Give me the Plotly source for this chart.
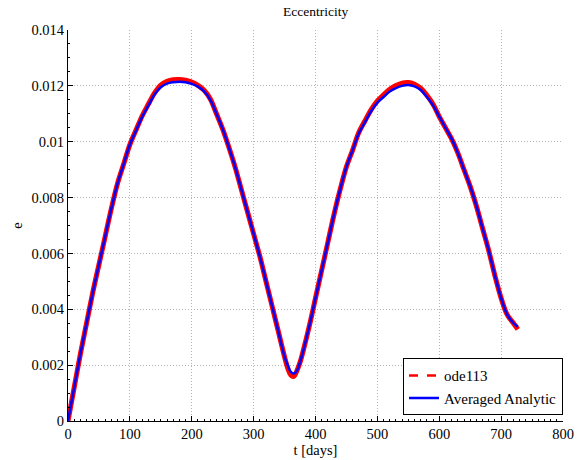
import plotly.graph_objects as go

# time samples [days]
t_days = [0, 10, 20, 30, 40, 50, 60, 70, 80, 90, 100, 110, 120, 130, 140, 150, 160, 170, 180, 190,
          200, 210, 220, 230, 240, 250, 260, 270, 280, 290, 300, 310, 320, 330, 340, 350, 355, 360,
          365, 370, 375, 380, 390, 400, 410, 420, 430, 440, 450, 460, 470, 480, 490, 500, 510, 520,
          530, 540, 550, 560, 570, 580, 590, 600, 610, 620, 630, 640, 650, 660, 670, 680, 690, 700,
          710, 720, 727]

# Averaged analytic eccentricity
e_analytic = [0.0, 0.0012, 0.0024, 0.0035, 0.0046, 0.0056, 0.0066, 0.0076, 0.0085, 0.0092, 0.0099,
              0.0104, 0.0109, 0.0113, 0.0117, 0.01195, 0.01208, 0.01213, 0.01215, 0.01213, 0.01207,
              0.01197, 0.0118, 0.0115, 0.0110, 0.01045, 0.0098, 0.0091, 0.0083, 0.0075, 0.0067,
              0.0059, 0.0050, 0.0041, 0.0032, 0.0023, 0.0020, 0.00176, 0.0017, 0.0018, 0.0021,
              0.0025, 0.0034, 0.0044, 0.0054, 0.0064, 0.0074, 0.0083, 0.0091, 0.0097, 0.0103,
              0.0107, 0.0111, 0.0114, 0.0116, 0.0118, 0.01192, 0.01200, 0.01203, 0.01198, 0.01185,
              0.0116, 0.0113, 0.0109, 0.0105, 0.0101, 0.0096, 0.0090, 0.0084, 0.0077, 0.0069,
              0.0061, 0.0052, 0.0044, 0.0038, 0.0035, 0.00338]

# ode113 numerical eccentricity
e_ode113 = [0.0, 0.0012, 0.0024, 0.0035, 0.0046, 0.0056, 0.0066, 0.0076, 0.0085, 0.0092, 0.0099,
            0.01042, 0.01093, 0.01135, 0.01175, 0.01203, 0.01216, 0.01222, 0.01223, 0.01220, 0.01214,
            0.01202, 0.01184, 0.01153, 0.0110, 0.01045, 0.0098, 0.0091, 0.0083, 0.0075, 0.0067,
            0.0059, 0.0050, 0.0041, 0.0032, 0.0023, 0.0019, 0.00165, 0.0016, 0.0018, 0.0021,
            0.0025, 0.0034, 0.0044, 0.0054, 0.0064, 0.0074, 0.0083, 0.0091, 0.0097, 0.01033,
            0.01075, 0.01115, 0.01146, 0.01168, 0.01188, 0.01201, 0.01210, 0.01212, 0.01206, 0.01192,
            0.01166, 0.01134, 0.0109, 0.0105, 0.0101, 0.0096, 0.0090, 0.0084, 0.0077, 0.0069,
            0.0061, 0.0052, 0.0044, 0.0038, 0.0035, 0.00328]

x_ticks = [0, 100, 200, 300, 400, 500, 600, 700, 800]
y_ticks = [0, 0.002, 0.004, 0.006, 0.008, 0.010, 0.012, 0.014]
y_tick_labels = ["0", "0.002", "0.004", "0.006", "0.008", "0.01", "0.012", "0.014"]

FONT = "Times New Roman"

fig = go.Figure()
fig.add_trace(go.Scatter(x=t_days, y=e_ode113, mode="lines", showlegend=False,
                         line=dict(color="#ff0000", width=5, shape="spline", smoothing=1.0),
                         hoverinfo="skip"))
fig.add_trace(go.Scatter(x=[None], y=[None], mode="lines", name="ode113",
                         line=dict(color="#ff0000", width=2.5, dash="dash")))
fig.add_trace(go.Scatter(x=t_days, y=e_analytic, mode="lines", name="Averaged Analytic",
                         line=dict(color="#0000ff", width=2.5, shape="spline", smoothing=1.0)))

axis_common = dict(
    showline=True, linecolor="black", linewidth=1, mirror=False,
    ticks="inside", ticklen=5, tickcolor="black", tickwidth=1,
    showgrid=True, gridcolor="#b4b4b4", griddash="1px,2px", gridwidth=1,
    zeroline=False, automargin=False,
    tickfont=dict(family=FONT, size=14.5, color="black"),
    minor=dict(ticks="inside", ticklen=2, tickcolor="black", showgrid=False),
)

fig.update_layout(
    width=579, height=460,
    margin=dict(l=68, r=16, t=30, b=39),
    paper_bgcolor="white", plot_bgcolor="white",
    font=dict(family=FONT, size=14, color="black"),
    title=dict(text="Eccentricity", x=0.545, xanchor="center", y=0.976, yanchor="middle",
               yref="container", font=dict(family=FONT, size=13.5, color="black")),
    xaxis=dict(range=[0, 800], tickvals=x_ticks, ticktext=[str(v) for v in x_ticks],
               title=dict(text="t [days]", standoff=0, font=dict(family=FONT, size=14.5)),
               **axis_common),
    yaxis=dict(range=[0, 0.014], tickvals=y_ticks, ticktext=y_tick_labels,
               title=dict(text="e", standoff=5, font=dict(family=FONT, size=14.5)),
               **axis_common),
    legend=dict(x=1.0, y=0.015, xanchor="right", yanchor="bottom",
                bgcolor="white", bordercolor="black", borderwidth=1,
                font=dict(family=FONT, size=15, color="black"),
                tracegroupgap=0, itemwidth=30),
    showlegend=True,
)
fig.update_xaxes(minor_dtick=10)
fig.update_yaxes(minor_dtick=0.0005)

fig.write_html("out.html")
